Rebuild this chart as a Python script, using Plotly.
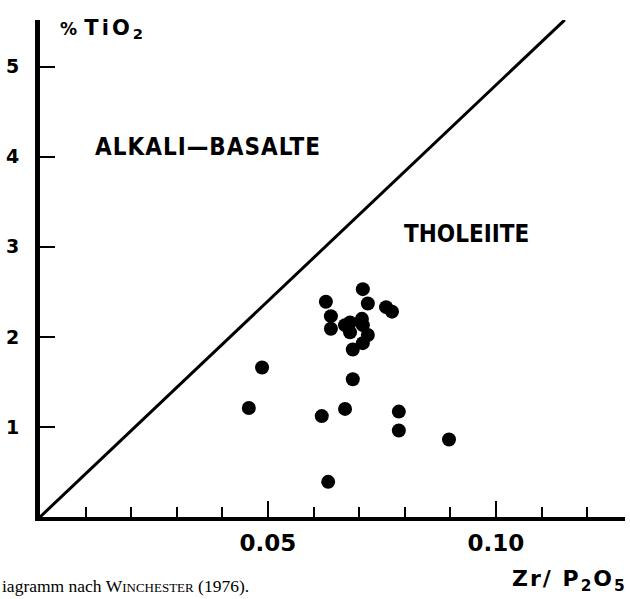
import plotly.graph_objects as go

# Sample data
zr_p2o5 = [0.0708, 0.0627, 0.0719, 0.0759, 0.0772, 0.0638, 0.0680, 0.0706,
           0.0638, 0.0669, 0.0708, 0.0680, 0.0719, 0.0708, 0.0686, 0.0487,
           0.0458, 0.0686, 0.0618, 0.0669, 0.0787, 0.0787, 0.0897, 0.0632]
tio2 = [2.53, 2.39, 2.37, 2.33, 2.28, 2.23, 2.16, 2.20,
        2.09, 2.13, 2.13, 2.05, 2.02, 1.93, 1.86, 1.66,
        1.21, 1.53, 1.12, 1.20, 1.17, 0.96, 0.86, 0.39]

# Boundary line between fields
boundary_x = [0.0, 0.1151]
boundary_y = [0.0, 5.52]

x_major_ticks = [0.05, 0.10]
x_major_labels = ["0.05", "0.10"]
y_ticks = [1, 2, 3, 4, 5]
y_labels = ["1", "2", "3", "4", "5"]

fig = go.Figure()
fig.add_trace(go.Scatter(x=boundary_x, y=boundary_y, mode="lines",
                         line=dict(color="black", width=3),
                         cliponaxis=False, hoverinfo="skip"))
fig.add_trace(go.Scatter(x=zr_p2o5, y=tio2, mode="markers",
                         marker=dict(color="black", size=14, line=dict(width=0)),
                         cliponaxis=False))

fig.update_layout(
    width=630, height=599,
    margin=dict(l=40, r=5, t=20, b=82),
    paper_bgcolor="white", plot_bgcolor="white",
    showlegend=False,
    xaxis=dict(range=[0, 0.1283], showgrid=False, zeroline=False,
               showline=True, linecolor="black", linewidth=4,
               tickvals=x_major_ticks, ticktext=x_major_labels,
               ticks="inside", ticklen=16, tickwidth=2, tickcolor="black",
               ticklabelstandoff=2,
               tickfont=dict(family="DejaVu Sans", size=23, color="black", weight="bold"),
               minor=dict(dtick=0.01, tick0=0, ticks="inside", ticklen=10,
                          tickwidth=2, tickcolor="black", showgrid=False)),
    yaxis=dict(range=[0, 5.518], showgrid=False, zeroline=False,
               showline=True, linecolor="black", linewidth=5,
               tickvals=y_ticks, ticktext=y_labels,
               ticks="inside", ticklen=15, tickwidth=2, tickcolor="black",
               ticklabelstandoff=12,
               tickfont=dict(family="DejaVu Sans", size=19, color="black", weight="bold")),
)

label_font = "DejaVu Sans Condensed, DejaVu Sans"

fig.add_annotation(x=0.0368, y=4.11, xref="x", yref="y", showarrow=False,
                   text="<b><span style='letter-spacing:1px'>ALKALI—BASALTE</span></b>",
                   font=dict(family=label_font, size=24, color="black"))
fig.add_annotation(x=0.0936, y=3.14, xref="x", yref="y", showarrow=False,
                   text="<b>THOLEIITE</b>",
                   font=dict(family=label_font, size=24, color="black"))

fig.add_annotation(x=0.031, y=1.012, xref="paper", yref="paper", showarrow=False,
                   xanchor="left", yanchor="top",
                   text="<b><span style='font-size:17px'>%</span> <span style='letter-spacing:3px'>TiO</span><sub>2</sub></b>",
                   font=dict(family="DejaVu Sans", size=21, color="black"))

fig.add_annotation(x=1.006, y=-0.128, xref="paper", yref="paper", showarrow=False,
                   xanchor="right", yanchor="middle",
                   text="<b><span style='letter-spacing:2px'>Zr/ P<sub>2</sub>O<sub>5</sub></span></b>",
                   font=dict(family="DejaVu Sans", size=22, color="black"))

fig.add_annotation(x=-0.0684, y=-0.139, xref="paper", yref="paper", showarrow=False,
                   xanchor="left", yanchor="middle",
                   text="iagramm nach W<span style='font-size:13px'>INCHESTER</span> (1976).",
                   font=dict(family="Liberation Serif", size=17.5, color="black"))

fig.write_html("out.html", config={"displayModeBar": False},
               post_script="document.body.style.margin='0px';")
